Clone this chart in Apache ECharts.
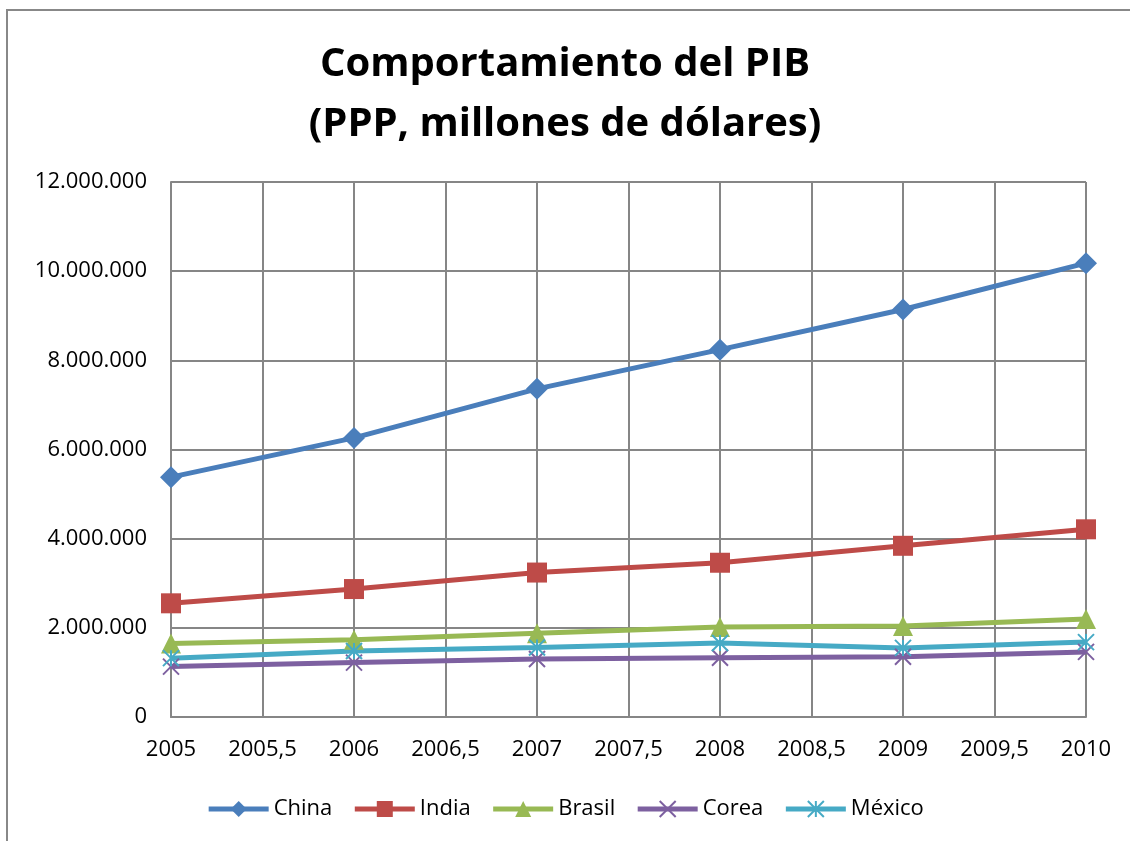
<!DOCTYPE html>
<html>
<head>
<meta charset="utf-8">
<script src="https://cdn.jsdelivr.net/npm/echarts@6/dist/echarts.min.js"></script>
<style>
  html, body { margin: 0; padding: 0; background: #fff; }
  #chart { width: 1130px; height: 841px; }
</style>
</head>
<body>
<div id="chart"></div>
<script>
// años (eje x numérico)
var years = [2005, 2006, 2007, 2008, 2009, 2010]
// PIB PPP, millones de dólares
var china = [5380000, 6260000, 7360000, 8240000, 9140000, 10180000]
var india = [2550000, 2870000, 3240000, 3460000, 3840000, 4210000]
var brasil = [1650000, 1730000, 1880000, 2020000, 2040000, 2200000]
var corea = [1130000, 1220000, 1300000, 1330000, 1350000, 1460000]
var mexico = [1320000, 1480000, 1560000, 1660000, 1550000, 1680000]

var font = 'Open Sans'

function pairs(vals) {
  return years.map((y, i) => [y, vals[i]])
}

function fmtMiles(v) {
  return String(v).replace(/\B(?=(\d{3})+(?!\d))/g, '.')
}

function serie(name, data, color, symbol, size, stroke) {
  return {
    name: name,
    type: 'line',
    data: pairs(data),
    symbol: symbol,
    symbolSize: size,
    showSymbol: true,
    lineStyle: { color: color, width: 5 },
    itemStyle: stroke
      ? { color: 'none', borderColor: color, borderWidth: 2 }
      : { color: color, borderColor: color, borderWidth: 0 },
    z: 3
  }
}

// marcadores tipo Excel (x y asterisco)
var crossPath = 'path://M0,0 L10,10 M10,0 L0,10'
var starPath = 'path://M0,0 L10,10 M10,0 L0,10 M5,0 L5,10'

var chart = echarts.init(document.getElementById('chart'))
chart.setOption({
  animation: false,
  backgroundColor: '#fff',
  graphic: [
    {
      type: 'rect',
      shape: { x: 7, y: 10, width: 1300, height: 1000 },
      style: { fill: 'none', stroke: '#888', lineWidth: 2 },
      silent: true,
      z: -1
    }
  ],
  title: {
    text: 'Comportamiento del PIB\n(PPP, millones de dólares)',
    left: 'center',
    top: 30,
    textStyle: {
      fontFamily: font,
      fontWeight: 'bold',
      fontSize: 40,
      lineHeight: 60,
      color: '#000'
    }
  },
  legend: {
    bottom: 16,
    left: 'center',
    itemWidth: 60,
    itemHeight: 20,
    itemGap: 20,
    lineStyle: { width: 5 },
    textStyle: { fontFamily: font, fontSize: 22, color: '#000' },
    data: ['China', 'India', 'Brasil', 'Corea', 'México']
  },
  grid: {
    left: 171,
    right: 44,
    top: 182,
    bottom: 124,
    containLabel: false
  },
  xAxis: {
    type: 'value',
    min: 2005,
    max: 2010,
    interval: 0.5,
    axisLine: { show: true, lineStyle: { color: '#868686', width: 2 } },
    axisTick: { show: false },
    splitLine: { show: true, lineStyle: { color: '#868686', width: 2 } },
    axisLabel: {
      margin: 22,
      fontFamily: font,
      fontSize: 22,
      color: '#000',
      formatter: v => String(v).replace('.', ',')
    }
  },
  yAxis: {
    type: 'value',
    min: 0,
    max: 12000000,
    interval: 2000000,
    axisLine: { show: true, lineStyle: { color: '#868686', width: 2 } },
    axisTick: { show: false },
    splitLine: { show: true, lineStyle: { color: '#868686', width: 2 } },
    axisLabel: {
      margin: 24,
      fontFamily: font,
      fontSize: 22,
      color: '#000',
      formatter: fmtMiles
    }
  },
  series: [
    serie('China', china, '#4a7ebb', 'diamond', 22),
    serie('India', india, '#be4b48', 'rect', 20),
    serie('Brasil', brasil, '#98b954', 'triangle', 20),
    serie('Corea', corea, '#7d60a0', crossPath, 16, true),
    serie('México', mexico, '#46aac5', starPath, 16, true)
  ]
})
</script>
</body>
</html>
